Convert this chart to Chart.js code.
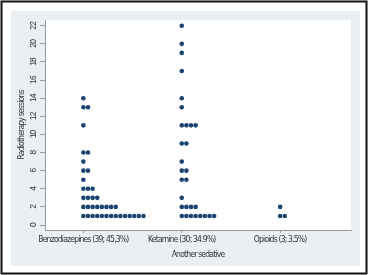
<!DOCTYPE html>
<html>
<head>
<meta charset="utf-8">
<script src="https://cdn.jsdelivr.net/npm/chart.js@4/dist/chart.umd.min.js"></script>
<style>
  html, body { margin: 0; padding: 0; background: #fff; }
  canvas { display: block; }
</style>
</head>
<body>
<canvas id="dotChart" width="373" height="275"></canvas>
<script>
// * data
const categories = ["Benzodiazepines (39; 45,3%)", "Ketamine (30; 34.9%)", "Opioids (3; 3.5%)"];
const benzoSessions = [1, 2, 3, 4, 5, 6, 7, 8, 11, 13, 14];
const benzoCounts = [14, 8, 4, 3, 1, 2, 1, 2, 1, 2, 1];
const ketamineSessions = [1, 2, 3, 5, 6, 7, 9, 11, 13, 14, 17, 19, 20, 22];
const ketamineCounts = [8, 4, 1, 2, 2, 1, 2, 4, 1, 1, 1, 1, 1, 1];
const opioidSessions = [1, 2];
const opioidCounts = [2, 1];
const yTicks = [0, 2, 4, 6, 8, 10, 12, 14, 16, 18, 20, 22];

const dotColor = "#1b4571";
const narrow = "'DejaVu Sans Condensed', 'Liberation Sans Narrow', sans-serif";
const dotStep = 0.047; // horizontal gap between stacked dots (x units)

// stack dots to the right of the category position
function stackDots(catIndex, sessions, counts) {
  const pts = [];
  sessions.forEach((s, i) => {
    for (let j = 0; j < counts[i]; j++) {
      pts.push({ x: catIndex + 1 + j * dotStep, y: s });
    }
  });
  return pts;
}

const framePlugin = {
  id: "frame",
  beforeDraw(chart) {
    const ctx = chart.ctx;
    const area = chart.chartArea;
    ctx.save();
    ctx.fillStyle = "#ffffff";
    ctx.fillRect(0, 0, chart.width, chart.height);
    ctx.fillStyle = "#e9eff2";
    ctx.fillRect(11, 11, 349, 255);
    ctx.fillStyle = "#ffffff";
    ctx.fillRect(area.left, area.top, area.right - area.left, area.bottom - area.top);
    ctx.strokeStyle = "#111111";
    ctx.lineWidth = 2;
    ctx.strokeRect(1.5, 1.5, 365, 272);
    ctx.restore();
    // condensed look for all axis text
    ctx.letterSpacing = "-0.8px";
  },
};

const ctx = document.getElementById("dotChart").getContext("2d");
const dotChart = new Chart(ctx, {
  type: "scatter",
  data: {
    datasets: [
      { data: stackDots(0, benzoSessions, benzoCounts) },
      { data: stackDots(1, ketamineSessions, ketamineCounts) },
      { data: stackDots(2, opioidSessions, opioidCounts) },
    ],
  },
  options: {
    responsive: false,
    animation: false,
    devicePixelRatio: 1,
    layout: { padding: { left: 0, right: 22, top: 20, bottom: 0 } },
    elements: {
      point: {
        radius: 2.3,
        backgroundColor: dotColor,
        borderColor: dotColor,
        borderWidth: 0,
      },
    },
    plugins: {
      legend: { display: false },
      tooltip: { enabled: false },
    },
    scales: {
      x: {
        type: "linear",
        min: 0.61,
        max: 3.72,
        afterBuildTicks: (scale) => {
          scale.ticks = categories.map((c, i) => ({ value: i + 1 }));
        },
        afterFit: (scale) => {
          scale.height = 45;
        },
        grid: { drawOnChartArea: false, drawTicks: true, tickLength: 3, color: "#999999" },
        border: { display: true, color: "#999999", width: 1 },
        ticks: {
          padding: 2,
          color: "#333333",
          font: { family: narrow, size: 8.5 },
          callback: (v) => categories[v - 1],
          maxRotation: 0,
          autoSkip: false,
        },
        title: {
          display: true,
          text: "Another sedative",
          color: "#333333",
          font: { family: narrow, size: 8.5 },
          padding: { top: 0, bottom: 14.8 },
        },
      },
      y: {
        min: -0.55,
        max: 22.63,
        afterBuildTicks: (scale) => {
          scale.ticks = yTicks.map((v) => ({ value: v }));
        },
        afterFit: (scale) => {
          scale.width = 45;
        },
        grid: { drawOnChartArea: false, drawTicks: true, tickLength: 5, color: "#999999" },
        border: { display: true, color: "#999999", width: 1 },
        ticks: {
          minRotation: 90,
          maxRotation: 90,
          crossAlign: "center",
          padding: 2,
          color: "#333333",
          font: { family: "'Liberation Sans', sans-serif", size: 8.5 },
        },
        title: {
          display: true,
          text: "Radiotherapy sessions",
          color: "#333333",
          font: { family: narrow, size: 8.5 },
          padding: { top: 16.9, bottom: 0 },
        },
      },
    },
  },
  plugins: [framePlugin],
});
</script>
</body>
</html>
